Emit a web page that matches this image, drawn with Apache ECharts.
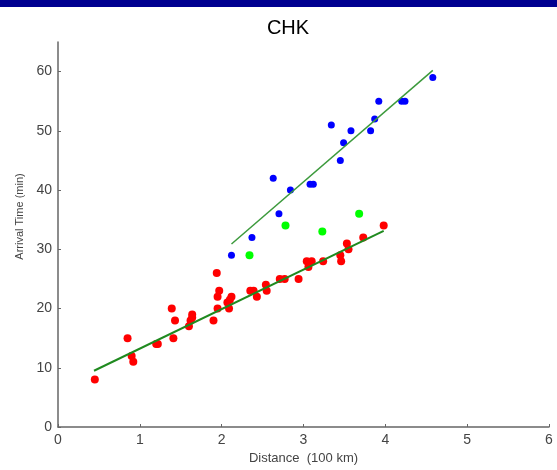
<!DOCTYPE html>
<html>
<head>
<meta charset="utf-8">
<script src="https://cdn.jsdelivr.net/npm/echarts@6/dist/echarts.min.js"></script>
<style>html,body{margin:0;padding:0;background:#fff;}#c{width:557px;height:470px;}</style>
</head>
<body>
<div id="c"></div>
<script>
var titleText = 'CHK';
var xName = 'Distance  (100 km)';
var yName = 'Arrival Time (min)';
var xTicks = [0, 1, 2, 3, 4, 5, 6];
var yTicks = [0, 10, 20, 30, 40, 50, 60];

var redX = [0.45, 0.85, 0.9, 0.92, 1.2, 1.22, 1.39, 1.41, 1.43, 1.6, 1.62, 1.64, 1.64, 1.9, 1.94, 1.95, 1.95, 1.97, 2.07, 2.09, 2.1, 2.12, 2.35, 2.39, 2.43, 2.54, 2.55, 2.71, 2.77, 2.94, 3.04, 3.06, 3.1, 3.24, 3.45, 3.46, 3.53, 3.55, 3.73, 3.98];
var redY = [8, 15, 12, 11, 14, 14, 20, 15, 18, 17, 18, 19, 18.5, 18, 26, 22, 20, 23, 21, 20, 21.5, 22, 23, 23, 22, 24, 23, 25, 25, 25, 28, 27, 28, 28, 29, 28, 31, 30, 32, 34];

var greenX = [2.34, 2.78, 3.23, 3.68];
var greenY = [29, 34, 33, 36];

var blueX = [2.12, 2.37, 2.63, 2.7, 2.84, 3.08, 3.12, 3.34, 3.45, 3.49, 3.58, 3.82, 3.87, 3.92, 4.2, 4.24, 4.58];
var blueY = [29, 32, 42, 36, 40, 41, 41, 51, 45, 48, 50, 50, 52, 55, 55, 55, 59];

var fitLowX = [0.44, 3.98];
var fitLowY = [9.5, 33.1];
var fitHighX = [2.12, 4.58];
var fitHighY = [30.9, 60.2];

function pairs(xs, ys) { return xs.map(function (x, i) { return [x, ys[i]]; }); }

var chart = echarts.init(document.getElementById('c'), null, {renderer: 'canvas'});
chart.setOption({
  animation: false,
  backgroundColor: '#ffffff',
  title: {
    text: titleText, left: 283, top: 13, textAlign: 'center',
    textStyle: {fontFamily: 'Liberation Sans', fontSize: 20, fontWeight: 'normal', color: '#000'}
  },
  graphic: [{
    type: 'rect', left: 0, top: 0, shape: {width: 557, height: 7},
    style: {fill: '#000090'}, z: 100
  }],
  grid: {left: 58, right: 8, top: 42, bottom: 41, containLabel: false},
  xAxis: {
    type: 'value', min: 0, max: 6, interval: 1,
    name: xName, nameLocation: 'middle', nameGap: 25,
    nameTextStyle: {fontFamily: 'Liberation Sans', fontSize: 13, color: '#444'},
    axisLine: {show: true, lineStyle: {color: '#666', width: 1.5}},
    axisTick: {show: true, inside: true, length: 3, lineStyle: {color: '#666'}, customValues: xTicks},
    axisLabel: {fontFamily: 'Liberation Sans', fontSize: 14, color: '#444', margin: 6, customValues: xTicks},
    splitLine: {show: false}
  },
  yAxis: {
    type: 'value', min: 0, max: 65, interval: 10,
    name: yName, nameLocation: 'middle', nameGap: 31,
    nameTextStyle: {fontFamily: 'Liberation Sans', fontSize: 11, color: '#444', padding: [0, 0, 0, 36]},
    axisLine: {show: true, lineStyle: {color: '#666', width: 1.5}},
    axisTick: {show: true, inside: true, length: 3, lineStyle: {color: '#666'}, customValues: yTicks},
    axisLabel: {fontFamily: 'Liberation Sans', fontSize: 14, color: '#444', margin: 6, customValues: yTicks},
    splitLine: {show: false}
  },
  series: [
    {type: 'line', data: pairs(fitLowX, fitLowY), symbol: 'none', lineStyle: {color: '#1f8a1f', width: 2}, z: 3},
    {type: 'line', data: pairs(fitHighX, fitHighY), symbol: 'none', lineStyle: {color: '#3c9a3c', width: 1.5}, z: 3},
    {type: 'scatter', data: pairs(redX, redY), symbol: 'circle', symbolSize: 8, itemStyle: {color: '#ff0000', opacity: 1}, z: 2},
    {type: 'scatter', data: pairs(greenX, greenY), symbol: 'circle', symbolSize: 8, itemStyle: {color: '#00ff00', opacity: 1}, z: 2},
    {type: 'scatter', data: pairs(blueX, blueY), symbol: 'circle', symbolSize: 7, itemStyle: {color: '#0000ff', opacity: 1}, z: 2}
  ]
});
</script>
</body>
</html>
